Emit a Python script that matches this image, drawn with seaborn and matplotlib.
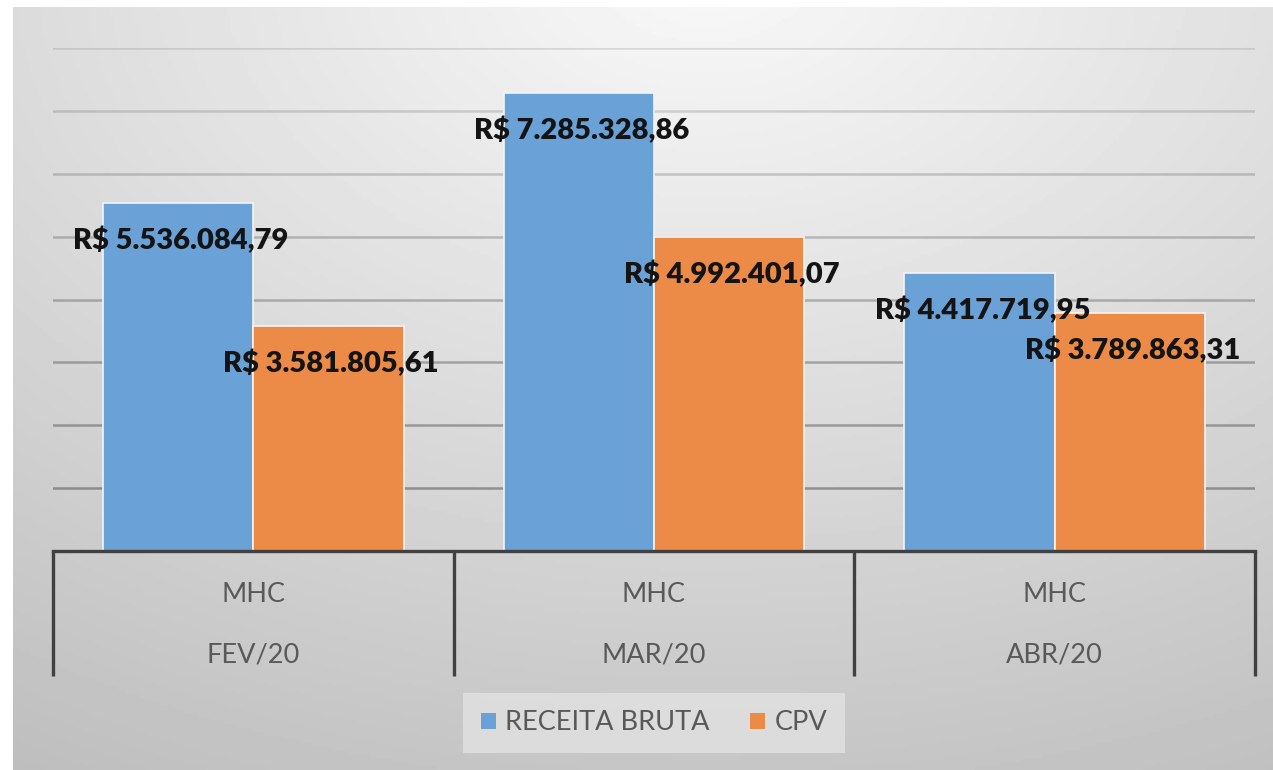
import numpy as np
import pandas as pd
import seaborn as sns
import matplotlib.pyplot as plt
from matplotlib.patches import Patch

meses = ["FEV/20", "MAR/20", "ABR/20"]
grupo = ["MHC", "MHC", "MHC"]
receita_bruta = [5536084.79, 7285328.86, 4417719.95]
cpv = [3581805.61, 4992401.07, 3789863.31]
series = ["RECEITA BRUTA", "CPV"]
cores = ["#6aa2d8", "#ec8a47"]


def brl(v):
    s = f"{v:,.2f}".replace(",", "X").replace(".", ",").replace("X", ".")
    return "R$ " + s


df = pd.DataFrame({
    "mes": meses * 2,
    "valor": receita_bruta + cpv,
    "serie": [series[0]] * 3 + [series[1]] * 3,
})

sns.set_style("white")
plt.rcParams["font.family"] = ["Lato", "DejaVu Sans"]

W, H = 1273, 770
fig = plt.figure(figsize=(W / 100, H / 100), dpi=100)
fig.patch.set_facecolor("white")

# fundo em degrade (claro no alto ao centro, mais escuro nas bordas)
bg = fig.add_axes([13 / W, 0, 1 - 13 / W, 1 - 7 / H])
gx, gy = np.meshgrid(np.linspace(0, 1, 300), np.linspace(0, 1, 200))
d = np.sqrt((gx - 0.55) ** 2 + ((gy - 1.05) / 1.1) ** 2)
v = np.clip(0.975 - 0.21 * d, 0, 1)
bg.imshow(v, cmap="gray", vmin=0, vmax=1, origin="lower", aspect="auto",
          extent=[0, 1, 0, 1])
bg.set_axis_off()

ax = fig.add_axes([53 / W, 1 - 551 / H, (1255 - 53) / W, (551 - 48) / H])
ax.set_facecolor("none")

sns.barplot(data=df, x="mes", y="valor", hue="serie", palette=cores,
            edgecolor="#f4f4f4", linewidth=1.2, ax=ax, legend=False,
            saturation=1, width=0.75)

ax.set_ylim(0, 8e6)
ax.set_xlim(-0.5, 2.5)
ax.set_yticks(np.arange(1e6, 8.01e6, 1e6))
ax.yaxis.grid(True, color="#3a3a3a", alpha=0.38, linewidth=1.8)
# linhas de grade mais claras no alto, como no original
glines = ax.get_ygridlines()
for i, gl in enumerate(glines):
    gl.set_alpha(0.45 - 0.3 * i / (len(glines) - 1))
ax.set_axisbelow(True)
ax.tick_params(left=False, bottom=False, labelleft=False, labelbottom=False)
ax.set_xlabel("")
ax.set_ylabel("")
for s in ["top", "right", "left"]:
    ax.spines[s].set_visible(False)
ax.spines["bottom"].set_color("#404040")
ax.spines["bottom"].set_linewidth(2.4)
ax.spines["bottom"].set_zorder(5)

# rotulos de dados
for cont in ax.containers:
    for barra in cont:
        h = barra.get_height()
        xc = barra.get_x() + barra.get_width() / 2
        ax.annotate(brl(h), (xc, h), xytext=(2, -27), textcoords="offset points",
                    ha="center", va="center", fontsize=21, fontweight="heavy",
                    color="#141414", zorder=6)

# eixo de categorias em dois niveis
tr = ax.get_xaxis_transform()
for xb in [-0.5, 0.5, 1.5, 2.5]:
    ax.plot([xb, xb], [0, -125 / 503], transform=tr, color="#404040",
            lw=2.4, clip_on=False, solid_capstyle="butt")
for i, (g, m) in enumerate(zip(grupo, meses)):
    ax.text(i, -44 / 503, g, transform=tr, ha="center", va="center",
            fontsize=19.5, color="#595959")
    ax.text(i, -104 / 503, m, transform=tr, ha="center", va="center",
            fontsize=19.5, color="#595959")

handles = [Patch(facecolor=c, edgecolor="none") for c in cores]
leg = fig.legend(handles, series, loc="center",
                 bbox_to_anchor=(654 / W, 1 - 723 / H), ncol=2,
                 frameon=True, facecolor="#e2e2e2", edgecolor="none",
                 fontsize=19.5, handlelength=0.55, handleheight=0.55,
                 handletextpad=0.35, columnspacing=1.5, borderpad=0.65,
                 fancybox=False, labelcolor="#595959")
leg.get_frame().set_alpha(0.8)

fig.savefig("out.png", dpi=100)
